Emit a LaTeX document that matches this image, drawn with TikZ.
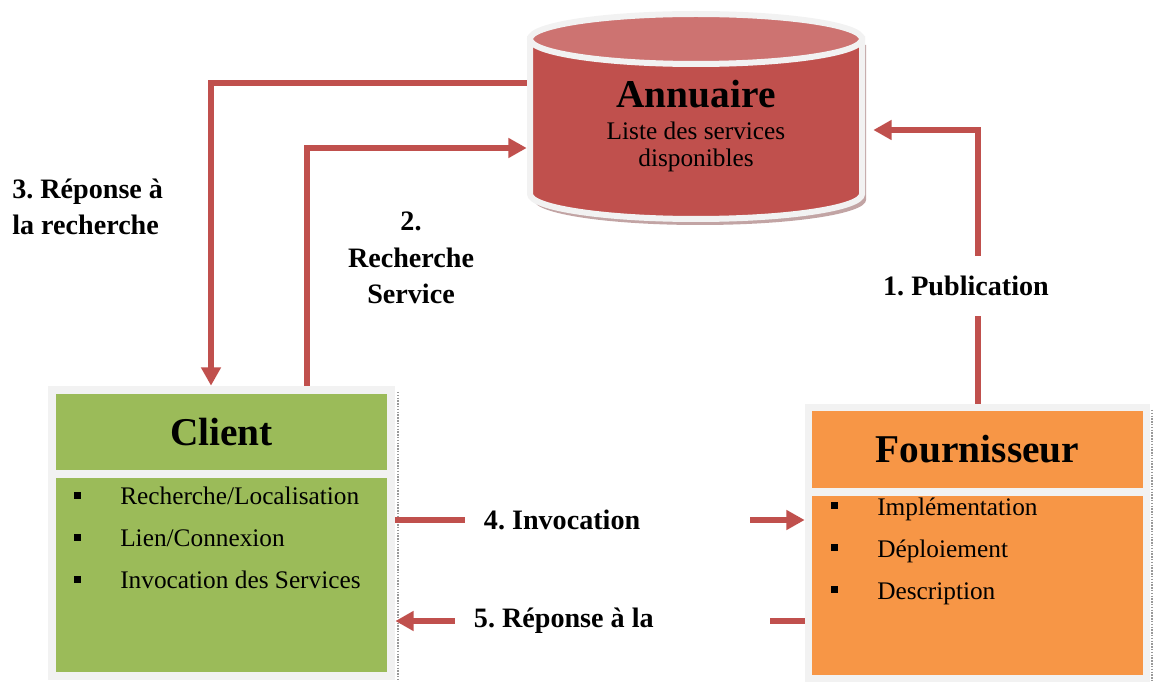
\documentclass[tikz,border=0pt]{standalone}
\usepackage{fontspec}
\setmainfont{Liberation Serif}
\usetikzlibrary{arrows.meta, calc, positioning}
\definecolor{annred}{HTML}{C0504D}
\definecolor{anntop}{HTML}{CD7371}
\definecolor{annshadow}{HTML}{8F5A5A}
\definecolor{cligreen}{HTML}{9BBB59}
\definecolor{fourorange}{HTML}{F79646}
\definecolor{framegray}{HTML}{F2F2F2}
\def\px{0.7113pt}
\frenchspacing
\newcommand\boxtitlefont{\fontsize{28}{30}\selectfont\bfseries}
\newcommand\itemfont{\fontsize{18}{19.2}\selectfont}
\newcommand\stepfont{\fontsize{20}{26}\selectfont\bfseries}
\tikzset{
    flow/.style={draw=annred, line width=6*\px, -{Triangle[length=13pt, width=13.5pt]}},
    outerbox/.style={fill=framegray, inner sep=0pt},
    innerbox/.style={inner sep=0pt, minimum width=331*\px},
    item/.style={font=\itemfont, inner sep=0pt, anchor=base west},
    stepname/.style={font=\stepfont, inner sep=0pt},
    gap/.style={stepname, fill=white, align=flush left},
    boxshadow/.style={draw=black!40, line width=2*\px, dash pattern=on 1pt off 1pt},
    cylbody/.style={fill=annred, draw=framegray, line width=6*\px},
    cyltop/.style={fill=anntop, draw=framegray, line width=6*\px}
}
\begin{document}
\begin{tikzpicture}[x=0.025cm, y=-0.025cm]
    \useasboundingbox (0,0) rectangle (1159,682);
    % Annuaire
    \def \cx {696}
    \def \rx {166}
    \def \ry {25}
    \def \ytop {39}
    \def \ybot {194}
    \begin{scope}[xshift=4*\px, yshift=-6*\px]
    \fill[annshadow, opacity=0.55] ({\cx-\rx},\ytop) -- ({\cx-\rx},\ybot) arc[start angle=180, end angle=0, x radius=\rx, y radius=\ry] -- ({\cx+\rx},\ytop) -- cycle;
    \end{scope}
    \filldraw[cylbody] ({\cx-\rx},\ytop) -- ({\cx-\rx},\ybot) arc[start angle=180, end angle=0, x radius=\rx, y radius=\ry] -- ({\cx+\rx},\ytop) -- cycle;
    \filldraw[cyltop] (\cx,\ytop) ellipse[x radius=\rx, y radius=\ry];
    \node[align=center, inner sep=0pt, minimum width=338*\px, font=\itemfont] (annu) at (\cx,126)
        {{\boxtitlefont Annuaire}\\[3.6pt]Liste des services\\disponibles};
    % Client
    \draw[boxshadow] (398,392) -- (398,682);
    \node[outerbox, minimum width=347*\px, minimum height=294*\px] (client) at (221.5,533) {};
    \node[innerbox, fill=cligreen, minimum height=76*\px, font=\boxtitlefont] (clienthead) at (221.5,432) {Client};
    \node[innerbox, fill=cligreen, minimum height=194*\px] (clientbody) at (221.5,575) {};
    \foreach \txt [count=\i] in {{Recherche/Localisation}, {Lien/Connexion}, {Invocation des Services}}{
        \fill (73.5,{491.5+42*(\i-1)}) rectangle ++(7,7);
        \node[item] (clitem\i) at (120,{504+42*(\i-1)}) {\txt};
    }
    % Fournisseur
    \draw[boxshadow] (1152,410) -- (1152,682);
    \node[outerbox, minimum width=345*\px, minimum height=278*\px] (four) at (977.5,543) {};
    \node[innerbox, fill=fourorange, minimum height=77*\px, font=\boxtitlefont] (fourhead) at (977.5,449.5) {Fournisseur};
    \node[innerbox, fill=fourorange, minimum height=179*\px] (fourbody) at (977.5,585.5) {};
    \foreach \txt [count=\i] in {Implémentation, Déploiement, Description}{
        \fill (831,{502+42*(\i-1)}) rectangle ++(7,7);
        \node[item] (fouritem\i) at (877,{515+42*(\i-1)}) {\txt};
    }
    % connexions
    \draw[flow] ($(annu.west)+(0,-43)$) -| ($(client.north)+(-10.5,0)$);
    \draw[flow] ($(client.north)+(85.5,0)$) |- ($(annu.west)+(0,22)$);
    \draw[flow] (four.north) |- ($(annu.east)+(8,4)$);
    \draw[flow] ($(client.east)+(0,-13)$) -- ($(four.west)+(0,-23)$);
    \draw[flow] ($(four.west)+(0,78)$) -- ($(client.east)+(0,88)$);
    % etapes
    \node[gap, inner xsep=4*\px, minimum height=60*\px] (pub) at (966,286) {1. Publication};
    \node[stepname, align=center] (rech) at (411,258) {2.\\Recherche\\Service};
    \node[stepname, align=left, anchor=west] (rep) at (12,207) {3. Réponse à\\la recherche};
    \node[gap, text width=247*\px, inner xsep=19*\px, inner ysep=8*\px] (inv) at (607.5,520) {4. Invocation};
    \node[gap, text width=277*\px, inner xsep=19*\px, inner ysep=8*\px] (rep5) at (612.5,621) {5. Réponse à la};
\end{tikzpicture}
\end{document}
